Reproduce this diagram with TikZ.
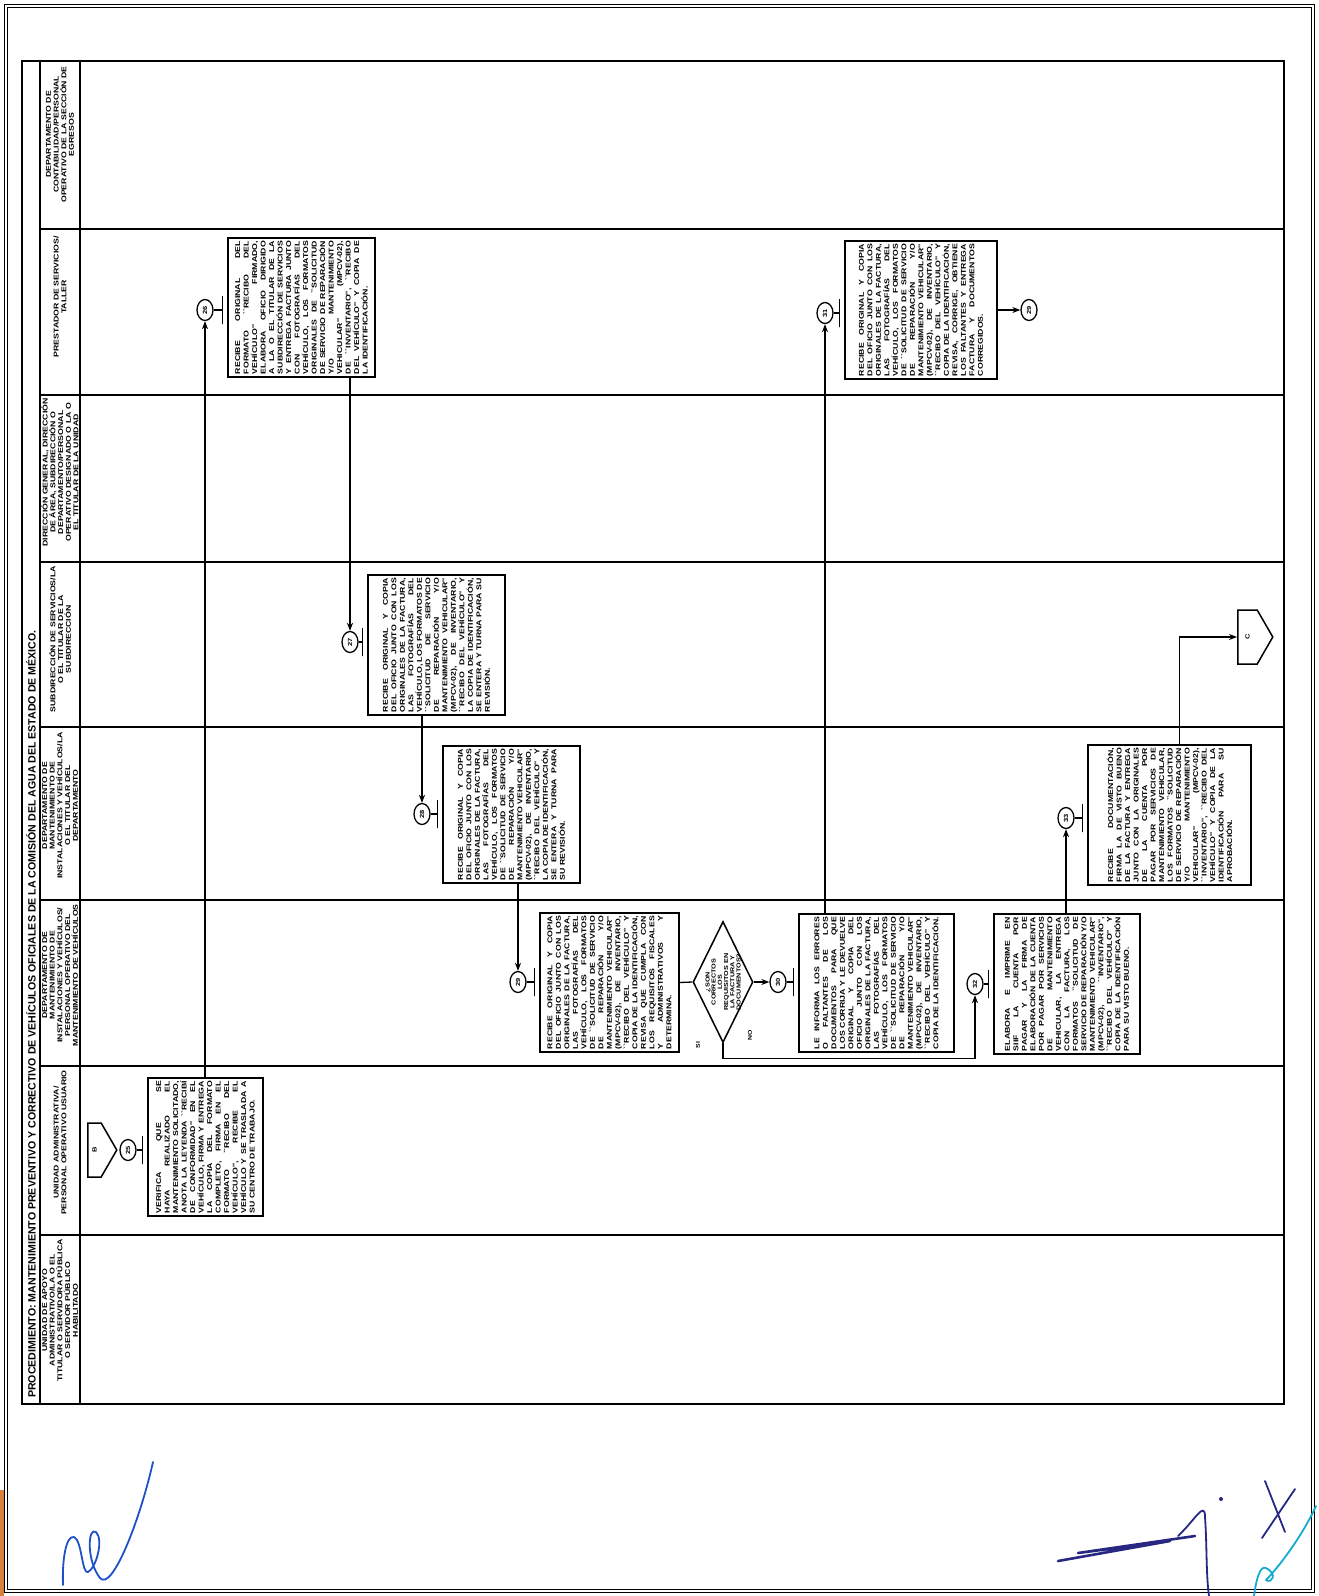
\documentclass[tikz,border=0pt]{standalone}
\usepackage{fontspec}
\setmainfont{Liberation Sans}
\newfontfamily\boxfont[FakeStretch=1.25]{Liberation Sans}
\usepackage{graphicx}
\usepackage{xcolor}
\usepackage{tikz}
\usetikzlibrary{shapes.geometric, shapes.symbols, arrows.meta, positioning, calc}
\hyphenpenalty=10000 \tolerance=9999 \emergencystretch=2em
\definecolor{sigblue}{RGB}{30,80,200}
\definecolor{signavy}{RGB}{40,40,130}
\definecolor{sigcyan}{RGB}{20,170,210}
\definecolor{scanorange}{RGB}{215,130,60}

\begin{document}
\begin{tikzpicture}[
    x=1pt, y=-1pt,
    lane/.style={line width=1.6pt},
    box/.style={draw, rectangle, rotate=90, line width=1.5pt, inner sep=3pt, align=justify,
      font=\boxfont\bfseries\fontsize{7}{8.5}\selectfont},
    stepnum/.style={draw, ellipse, rotate=90, line width=1.3pt, minimum width=21pt,
      minimum height=16pt, inner sep=0pt, font=\boxfont\bfseries\fontsize{6}{6}\selectfont},
    lanehead/.style={rotate=90, anchor=east, align=center, inner sep=0pt,
      font=\boxfont\bfseries\fontsize{7}{7.7}\selectfont},
    decision/.style={draw, diamond, rotate=90, line width=1.5pt, shape aspect=2, inner sep=-3pt,
      minimum width=121pt, minimum height=60pt, align=center,
      font=\boxfont\bfseries\fontsize{5.8}{6.2}\selectfont},
    offpage/.style={draw, signal, signal to=south, signal pointer angle=120, rotate=90,
      line width=1.5pt, minimum width=54pt, inner sep=0pt, anchor=north,
      font=\boxfont\bfseries\fontsize{6}{6}\selectfont},
    flow/.style={line width=1.3pt},
    arrow/.style={line width=1.3pt, -{Stealth[length=8pt,width=6pt]}},
    sig/.style={line width=1.8pt, line cap=round, line join=round}
]
\useasboundingbox (0,0) rectangle (1319,1596);

% page frame
\draw[line width=1pt, double, double distance=2pt] (6,6) rectangle (1313,1591);
\fill[scanorange] (0,1490) rectangle (4,1596);

% table and lanes
\draw[line width=2.2pt] (22,61) rectangle (1284,1404);
\draw[lane] (40,61) -- (40,1404);
\draw[lane] (80,61) -- (80,1404);
\foreach \y in {229,395,562,727,900,1066,1235}
  \draw[lane] (40,\y) -- (1284,\y);

\node[rotate=90, anchor=west, inner sep=0pt, font=\bfseries\fontsize{10.6}{11}\selectfont] (title) at (31,1398)
  {PROCEDIMIENTO: MANTENIMIENTO PREVENTIVO Y CORRECTIVO DE VEHÍCULOS OFICIALES DE LA COMISIÓN DEL AGUA DEL ESTADO DE MÉXICO.};

% lane headers
\node[lanehead] (h1) at (60,66) {DEPARTAMENTO DE\\ CONTABILIDAD/PERSONAL\\ OPERATIVO DE LA SECCIÓN DE\\ EGRESOS};
\node[lanehead] (h2) at (60,236) {PRESTADOR DE SERVICIOS/\\ TALLER};
\node[lanehead] (h3) at (60,398) {DIRECCIÓN GENERAL, DIRECCIÓN\\ DE ÁREA, SUBDIRECCIÓN O\\ DEPARTAMENTO/PERSONAL\\ OPERATIVO DESIGNADO O LA O\\ EL TITULAR DE LA UNIDAD};
\node[lanehead] (h4) at (60,566) {SUBDIRECCIÓN DE SERVICIOS/LA\\ O EL TITULAR DE LA\\ SUBDIRECCIÓN};
\node[lanehead] (h5) at (60,732) {DEPARTAMENTO DE\\ MANTENIMIENTO DE\\ INSTALACIONES Y VEHÍCULOS/LA\\ O EL TITULAR DEL\\ DEPARTAMENTO};
\node[lanehead] (h6) at (60,904) {DEPARTAMENTO DE\\ MANTENIMIENTO DE\\ INSTALACIONES Y VEHÍCULOS/\\ PERSONAL OPERATIVO DEL\\ MANTENIMIENTO DE VEHÍCULOS};
\node[lanehead] (h7) at (60,1070) {UNIDAD ADMINISTRATIVA/\\ PERSONAL OPERATIVO USUARIO};
\node[lanehead] (h8) at (60,1239) {UNIDAD DE APOYO\\ ADMINISTRATIVO/LA O EL\\ TITULAR O SERVIDORA PÚBLICA\\ O SERVIDOR PÚBLICO\\ HABILITADO};

% connectors and step numbers
\node[offpage, minimum height=15pt] (offB) at (87,1150) {B};
\node[stepnum] (c25) at (128,1150) {25};
\node[stepnum] (c26) at (205,310) {26};
\node[stepnum] (c27) at (350,642) {27};
\node[stepnum] (c28) at (422,814) {28};
\node[stepnum] (c29) at (518,982) {29};
\node[stepnum] (c30) at (778,982) {30};
\node[stepnum] (c31) at (825,313) {31};
\node[stepnum] (r29) at (1029,310) {29};
\node[stepnum] (c32) at (975,984) {32};
\node[stepnum] (c33) at (1066,818) {33};
\node[offpage, minimum height=21pt] (offC) at (1237,637) {C};

% activities
\node[box, text width=132pt, minimum width=138pt, minimum height=115pt] (box25) at (205.5,1147)
  {VERIFICA QUE SE HAYA REALIZADO EL MANTENIMIENTO SOLICITADO, ANOTA LA LEYENDA ``RECIBÍ DE CONFORMIDAD'' EN EL VEHÍCULO, FIRMA Y ENTREGA LA COPIA DEL FORMATO COMPLETO, FIRMA EN EL FORMATO ``RECIBO DEL VEHÍCULO'', RECIBE EL VEHÍCULO Y SE TRASLADA A SU CENTRO DE TRABAJO.};
\node[box, text width=133pt, minimum width=139pt, minimum height=147pt] (box26) at (301.5,307.5)
  {RECIBE ORIGINAL DEL FORMATO ``RECIBO DEL VEHÍCULO'' FIRMADO, ELABORA OFICIO DIRIGIDO A LA O EL TITULAR DE LA SUBDIRECCIÓN DE SERVICIOS Y ENTREGA FACTURA JUNTO CON FOTOGRAFÍAS DEL VEHÍCULO, LOS FORMATOS ORIGINALES DE ``SOLICITUD DE SERVICIO DE REPARACIÓN Y/O MANTENIMIENTO VEHICULAR'' (MPCV-02), DE ``INVENTARIO'', ``RECIBO DEL VEHÍCULO'' Y COPIA DE LA IDENTIFICACIÓN.};
\node[box, text width=134pt, minimum width=140pt, minimum height=137pt] (box27) at (436.5,645)
  {RECIBE ORIGINAL Y COPIA DEL OFICIO JUNTO CON LOS ORIGINALES DE LA FACTURA, LAS FOTOGRAFÍAS DEL VEHÍCULO, LOS FORMATOS DE ``SOLICITUD DE SERVICIO DE REPARACIÓN Y/O MANTENIMIENTO VEHICULAR'' (MPCV-02), DE INVENTARIO, ``RECIBO DEL VEHÍCULO'' Y LA COPIA DE IDENTIFICACIÓN, SE ENTERA Y TURNA PARA SU REVISIÓN.};
\node[box, text width=131pt, minimum width=137pt, minimum height=137pt] (box28) at (511.5,814.5)
  {RECIBE ORIGINAL Y COPIA DEL OFICIO JUNTO CON LOS ORIGINALES DE LA FACTURA, LAS FOTOGRAFÍAS DEL VEHÍCULO, LOS FORMATOS DE ``SOLICITUD DE SERVICIO DE REPARACIÓN Y/O MANTENIMIENTO VEHICULAR'' (MPCV-02), DE INVENTARIO, ``RECIBO DEL VEHÍCULO'' Y LA COPIA DE IDENTIFICACIÓN, SE ENTERA Y TURNA PARA SU REVISIÓN.};
\node[box, text width=133pt, minimum width=139pt, minimum height=139pt] (box29) at (609.5,982.5)
  {RECIBE ORIGINAL Y COPIA DEL OFICIO JUNTO CON LOS ORIGINALES DE LA FACTURA, LAS FOTOGRAFÍAS DEL VEHÍCULO, LOS FORMATOS DE ``SOLICITUD DE SERVICIO DE REPARACIÓN Y/O MANTENIMIENTO VEHICULAR'' (MPCV-02), DE INVENTARIO, ``RECIBO DEL VEHÍCULO'' Y COPIA DE LA IDENTIFICACIÓN, REVISA QUE CUMPLA CON LOS REQUISITOS FISCALES Y ADMINISTRATIVOS Y DETERMINA.};
\node[decision] (dec) at (723,982) {¿SON\\ CORRECTOS\\ LOS\\ REQUISITOS EN\\ LA FACTURA Y\\ DOCUMENTOS?};
\node[box, text width=132pt, minimum width=138pt, minimum height=155pt] (box30) at (876.5,983)
  {LE INFORMA LOS ERRORES O FALTANTES DE LOS DOCUMENTOS PARA QUE LOS CORRIJA Y LE DEVUELVE ORIGINAL Y COPIA DEL OFICIO JUNTO CON LOS ORIGINALES DE LA FACTURA, LAS FOTOGRAFÍAS DEL VEHÍCULO, LOS FORMATOS DE ``SOLICITUD DE SERVICIO DE REPARACIÓN Y/O MANTENIMIENTO VEHICULAR'' (MPCV-02), DE INVENTARIO, ``RECIBO DEL VEHÍCULO'' Y COPIA DE LA IDENTIFICACIÓN.};
\node[box, text width=132pt, minimum width=138pt, minimum height=152pt] (box31) at (921,310)
  {RECIBE ORIGINAL Y COPIA DEL OFICIO JUNTO CON LOS ORIGINALES DE LA FACTURA, LAS FOTOGRAFÍAS DEL VEHÍCULO, LOS FORMATOS DE ``SOLICITUD DE SERVICIO DE REPARACIÓN Y/O MANTENIMIENTO VEHICULAR'' (MPCV-02), DE INVENTARIO, ``RECIBO DEL VEHÍCULO'' Y COPIA DE LA IDENTIFICACIÓN, REVISA, CORRIGE, OBTIENE LOS FALTANTES Y ENTREGA FACTURA Y DOCUMENTOS CORREGIDOS.};
\node[box, text width=134pt, minimum width=140pt, minimum height=146pt] (box32) at (1067,984)
  {ELABORA E IMPRIME EN SIIF LA CUENTA POR PAGAR Y LA FIRMA DE ELABORACIÓN DE LA CUENTA POR PAGAR POR SERVICIOS DE MANTENIMIENTO VEHICULAR, LA ENTREGA CON LA FACTURA, LOS FORMATOS ``SOLICITUD DE SERVICIO DE REPARACIÓN Y/O MANTENIMIENTO VEHICULAR'' (MPCV-02), ``INVENTARIO'', ``RECIBO DEL VEHÍCULO'' Y COPIA DE LA IDENTIFICACIÓN PARA SU VISTO BUENO.};
\node[box, text width=134pt, minimum width=140pt, minimum height=163pt] (box33) at (1169.5,815)
  {RECIBE DOCUMENTACIÓN, FIRMA LA DE VISTO BUENO DE LA FACTURA Y ENTREGA JUNTO CON LA ORIGINALES DE LA CUENTA POR PAGAR POR SERVICIOS DE MANTENIMIENTO VEHICULAR, LOS FORMATOS ``SOLICITUD DE SERVICIO DE REPARACIÓN Y/O MANTENIMIENTO VEHICULAR'' (MPCV-02), ``INVENTARIO'', ``RECIBO DEL VEHÍCULO'' Y COPIA DE LA IDENTIFICACIÓN PARA SU APROBACIÓN.};

\node[rotate=90, inner sep=0pt, font=\boxfont\bfseries\fontsize{5.5}{6}\selectfont] (lblsi) at (698,1045) {SI};
\node[rotate=90, inner sep=0pt, font=\boxfont\bfseries\fontsize{5.5}{6}\selectfont] (lblno) at (750,1035) {NO};

% step ticks
\foreach \c/\b in {c25/box25, c26/box26, c27/box27, c28/box28, c29/box29, c30/box30, c31/box31, c32/box32, c33/box33} {
  \path (\b.north) ++(-5,0) coordinate (tk);
  \draw[flow] (\c.south) -- (tk |- \c) -- ++(0,14) -- ++(0,-28);
}

% flow
\draw[arrow] (c26 |- box25.east) -- (c26);
\draw[arrow] (c27 |- box26.west) -- (c27);
\draw[arrow] (c28 |- box27.west) -- (c28);
\draw[arrow] (c29 |- box28.west) -- (c29);
\draw[flow] (box29.south) -- (dec.north);
\draw[arrow] (dec.south) -- (c30);
\draw[arrow] (dec.west) -- ++(0,15) -| (c32);
\draw[arrow] (c31 |- box30.east) -- (c31);
\draw[arrow] (box31.south) -- (r29);
\draw[arrow] (c33 |- box32.east) -- (c33);
\draw[arrow] ([xshift=10pt]box33.east) |- (offC.north);

% signatures
\draw[sig, sigblue] (63,1585) .. controls (62,1560) and (66,1535) .. (74,1537)
  .. controls (82,1540) and (82,1575) .. (88,1572) .. controls (96,1568) and (104,1540) .. (96,1532)
  .. controls (88,1526) and (86,1560) .. (100,1578) .. controls (112,1592) and (140,1520) .. (153,1462);
\draw[sig, signavy, line width=2.6pt] (1058,1561) -- (1170,1541) -- (1078,1553) -- (1195,1536);
\draw[sig, signavy] (1178,1536) .. controls (1195,1520) and (1205,1500) .. (1205,1517)
  .. controls (1207,1545) and (1206,1575) .. (1209,1596);
\fill[signavy] (1221,1499) circle (2pt);
\draw[sig, signavy] (1265,1481) -- (1285,1532);
\draw[sig, signavy] (1295,1489) -- (1262,1538);
\draw[sig, sigcyan] (1254,1596) .. controls (1256,1580) and (1260,1565) .. (1266,1568)
  .. controls (1278,1574) and (1272,1584) .. (1266,1580) .. controls (1285,1560) and (1305,1530) .. (1316,1506);
\end{tikzpicture}
\end{document}
